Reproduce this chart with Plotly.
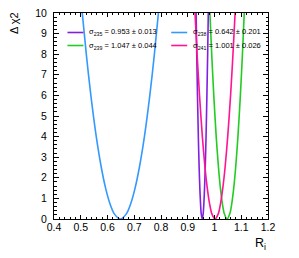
import plotly.graph_objects as go

# Delta chi2 levels (shared), from the top of the frame down to the minimum
levels_down = [10, 8, 6, 4, 2.5, 1.5, 0.75, 0.25, 0]
levels_up = [0, 0.25, 0.75, 1.5, 2.5, 4, 6, 8, 10]

# R_i positions of each curve at those levels (left branch, then right branch)
r235_left = [0.9312, 0.9336, 0.9364, 0.9396, 0.9426, 0.9452, 0.9478, 0.9504, 0.954]
r235_right = [0.954, 0.9576, 0.9602, 0.9628, 0.9654, 0.9684, 0.9716, 0.9744, 0.9768]

r239_left = [0.9828, 0.9896, 0.9973, 1.0064, 1.0149, 1.0221, 1.0294, 1.0369, 1.047]
r239_right = [1.047, 1.0572, 1.0646, 1.0719, 1.0791, 1.0876, 1.0967, 1.1044, 1.1112]

r238_left = [0.5057, 0.5207, 0.5378, 0.5580, 0.5769, 0.5929, 0.6090, 0.6255, 0.648]
r238_right = [0.648, 0.6705, 0.6870, 0.7031, 0.7191, 0.7380, 0.7582, 0.7753, 0.7903]

r241_left = [0.9271, 0.9350, 0.9440, 0.9546, 0.9645, 0.9730, 0.9815, 0.9902, 1.002]
r241_right = [1.002, 1.0139, 1.0225, 1.0310, 1.0395, 1.0494, 1.0601, 1.0690, 1.0770]

legend_labels = [
    "σ<sub>235</sub> = 0.953 ± 0.013",
    "σ<sub>239</sub> = 1.047 ± 0.044",
    "σ<sub>238</sub> = 0.642 ± 0.201",
    "σ<sub>241</sub> = 1.001 ± 0.026",
]
colors = ["#8020e0", "#22cc22", "#3399ff", "#ff1493"]

x_ticks = [0.4, 0.5, 0.6, 0.7, 0.8, 0.9, 1.0, 1.1, 1.2]
x_tick_text = ["0.4", "0.5", "0.6", "0.7", "0.8", "0.9", "1", "1.1", "1.2"]
y_ticks = [0, 1, 2, 3, 4, 5, 6, 7, 8, 9, 10]

curves = [
    (r235_left, r235_right),
    (r239_left, r239_right),
    (r238_left, r238_right),
    (r241_left, r241_right),
]

fig = go.Figure()
for (left, right), col, lab in zip(curves, colors, legend_labels):
    fig.add_trace(go.Scatter(
        x=left + right[1:],
        y=levels_down + levels_up[1:],
        mode="lines",
        line=dict(color=col, width=1.6, shape="spline", smoothing=0.8),
        name=lab,
        showlegend=False,
        hoverinfo="skip",
    ))

# page has an 8px body margin; figure sized so the plot frame lands where the reference has it
OFF = 8
W, H = 291, 250
PL, PR, PT, PB = 53.5, 268, 13, 219  # frame edges in page pixels
L = PL - OFF
R = OFF + W - PR
T = PT - OFF
B = OFF + H - PB
pw = PR - PL
ph = PB - PT


def px_x(px):
    return (px - PL) / pw


def px_y(py):
    return (PB - py) / ph


FONT = "Liberation Sans, Arial, sans-serif"

# manual two-column legend
legend_pos = [(67, 32.5), (67, 45.5), (171, 32.5), (171, 45.5)]
shapes = []
annotations = []
for (lx, ly), col, lab in zip(legend_pos, colors, legend_labels):
    shapes.append(dict(type="line", xref="paper", yref="paper",
                       x0=px_x(lx), x1=px_x(lx + 16), y0=px_y(ly), y1=px_y(ly),
                       line=dict(color=col, width=1.6)))
    annotations.append(dict(text=lab, xref="paper", yref="paper",
                            x=px_x(lx + 19.5), y=px_y(ly), xanchor="left", yanchor="middle",
                            showarrow=False,
                            font=dict(size=7.5, color="#000000", family=FONT)))

annotations.append(dict(text="Δ χ2", xref="paper", yref="paper",
                        x=px_x(13.5), y=px_y(23), xanchor="center", yanchor="middle",
                        textangle=-90, showarrow=False,
                        font=dict(size=11, color="#000000", family=FONT)))
annotations.append(dict(text="R<sub>i</sub>", xref="paper", yref="paper",
                        x=px_x(268), y=px_y(234), xanchor="right", yanchor="top",
                        showarrow=False,
                        font=dict(size=12.5, color="#000000", family=FONT)))

fig.update_layout(
    width=W, height=H,
    margin=dict(l=L, r=R, t=T, b=B, pad=0, autoexpand=False),
    paper_bgcolor="white", plot_bgcolor="white",
    font=dict(family=FONT, size=10.5, color="#000000"),
    shapes=shapes,
    annotations=annotations,
    showlegend=False,
)
fig.update_xaxes(
    range=[0.4, 1.2], tickvals=x_ticks, ticktext=x_tick_text,
    ticks="inside", ticklen=4, tickwidth=1, tickcolor="#000000",
    showline=True, linecolor="#000000", linewidth=1, mirror="ticks",
    showgrid=False, zeroline=False, ticklabelstandoff=-2, ticklabeloverflow="allow",
    minor=dict(ticks="inside", dtick=0.02, tick0=0.4, ticklen=2, tickcolor="#000000", showgrid=False),
)
fig.update_yaxes(
    range=[0, 10], tickvals=y_ticks,
    ticks="inside", ticklen=5, tickwidth=1, tickcolor="#000000",
    showline=True, linecolor="#000000", linewidth=1, mirror="ticks",
    showgrid=False, zeroline=False, ticklabelstandoff=4, ticklabeloverflow="allow",
    minor=dict(ticks="inside", dtick=0.2, tick0=0, ticklen=2.5, tickcolor="#000000", showgrid=False),
)

fig.write_html("out.html")
